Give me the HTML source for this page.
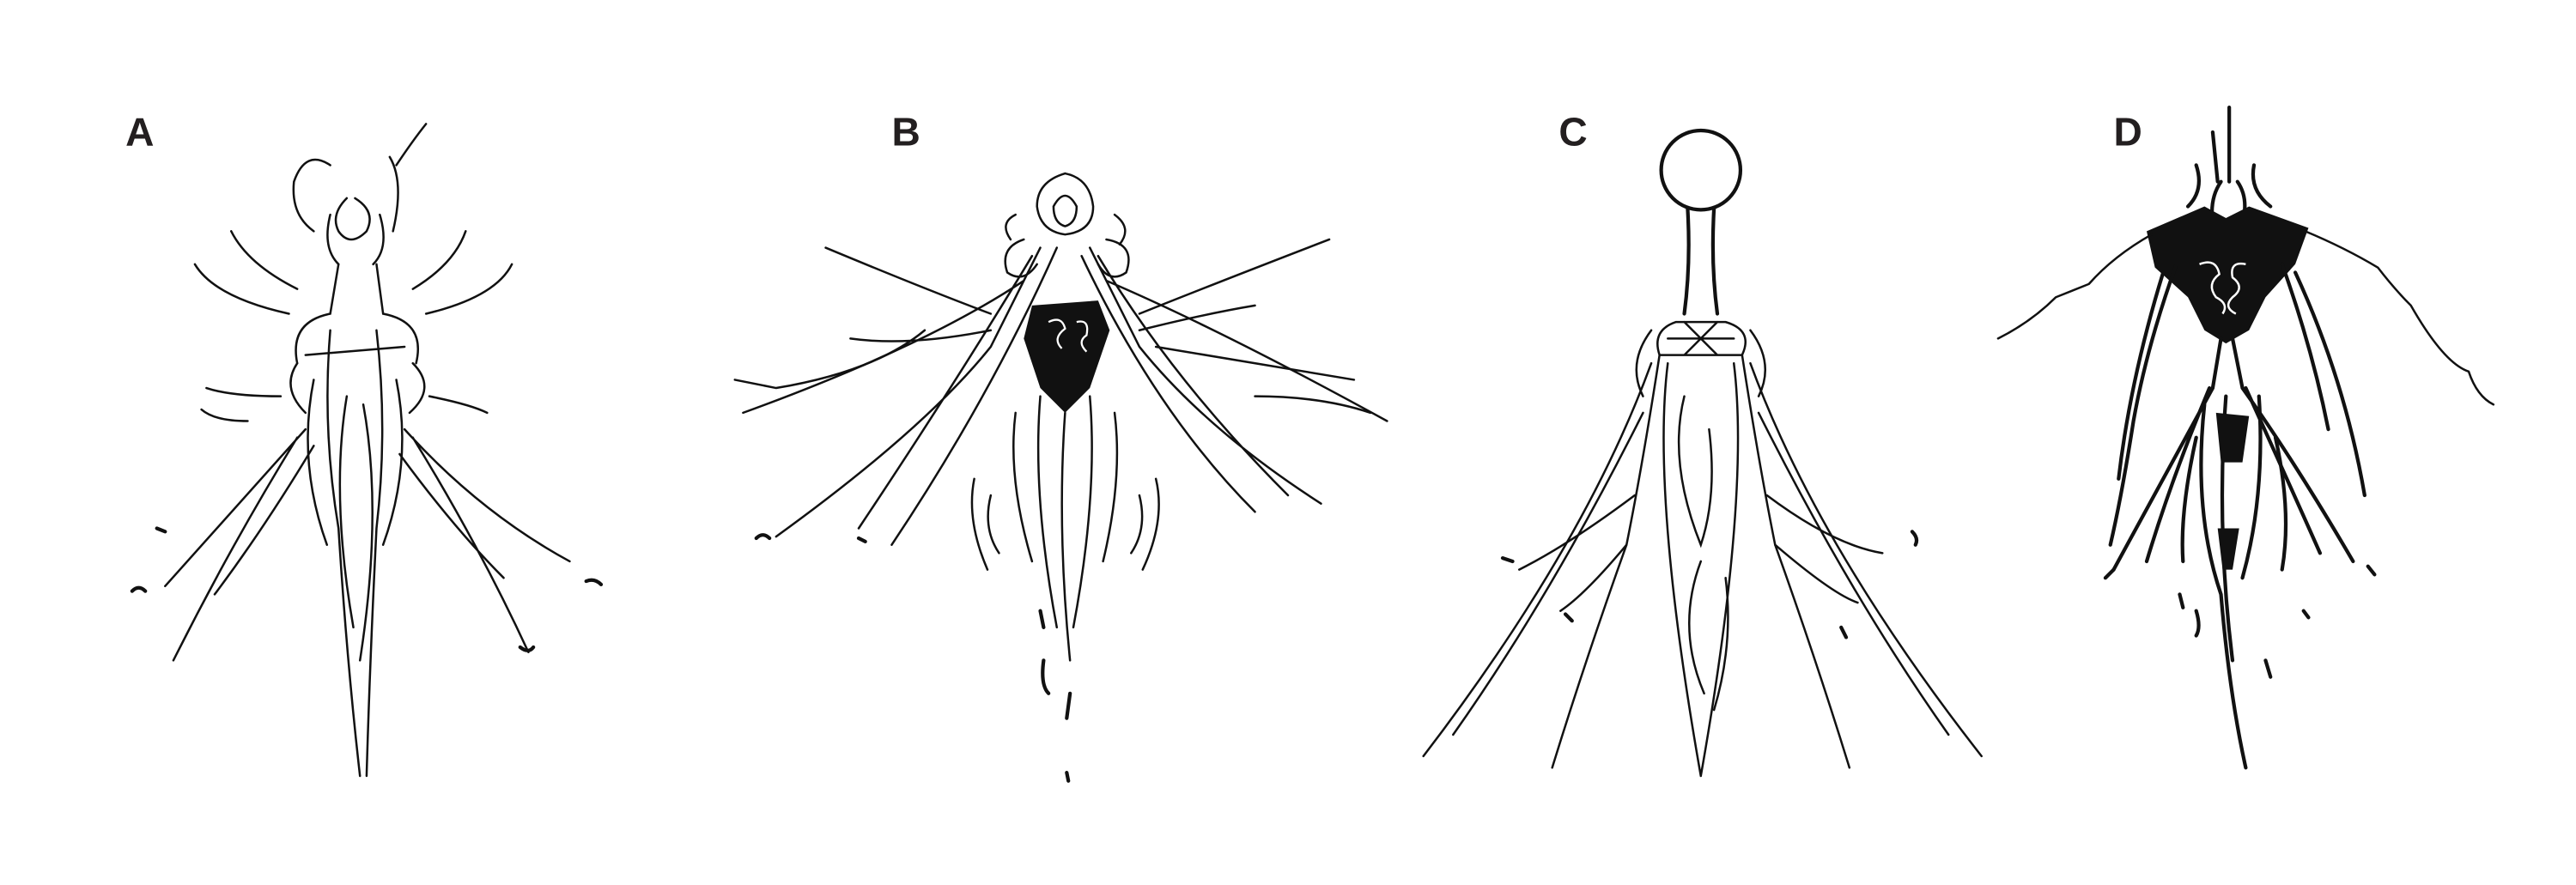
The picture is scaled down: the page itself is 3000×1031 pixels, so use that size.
<!DOCTYPE html>
<html><head><meta charset="utf-8"><style>
html,body{margin:0;padding:0;background:#fff;}
svg{display:block;}
text{font-family:"Liberation Sans",sans-serif;font-weight:bold;fill:#231f20;}
.s{fill:none;stroke:#111;stroke-width:1.3;stroke-linecap:round;}
.t{fill:none;stroke:#111;stroke-width:2.2;stroke-linecap:round;}
</style></head><body>
<svg width="3000" height="1031" viewBox="0 0 1560 536" xmlns="http://www.w3.org/2000/svg">
<rect width="1560" height="536" fill="#fff"/>
<text x="76" y="88" font-size="24">A</text>
<text x="540" y="88" font-size="24">B</text>
<text x="944" y="88" font-size="24">C</text>
<text x="1280" y="88" font-size="24">D</text>

<g>
<path class="s" d="M210 120 Q200 130 205 140 Q212 150 222 140 Q228 128 215 120 M200 130 Q195 150 205 160 M230 130 Q236 150 226 160"/>
<path class="s" d="M200 100 Q185 90 178 110 Q176 130 190 140 M240 100 Q250 85 258 75 M236 95 Q245 110 238 140"/>
<path class="s" d="M205 160 L200 190 Q175 195 180 220 M228 160 L232 190 Q258 195 252 220"/>
<path class="s" d="M180 175 Q150 160 140 140 M250 175 Q275 160 282 140 M175 190 Q130 180 118 160 M258 190 Q300 180 310 160"/>
<path class="s" d="M185 215 L245 210 M180 220 Q170 235 185 250 M250 220 Q265 235 248 250"/>
<path class="s" d="M200 200 Q195 260 205 320 Q210 400 218 470 M228 200 Q235 260 228 320 Q224 400 222 470"/>
<path class="s" d="M190 230 Q180 280 198 330 M240 230 Q250 280 232 330 M210 240 Q200 300 214 380 M220 245 Q232 310 218 400"/>
<path class="s" d="M185 260 Q140 310 100 355 M180 265 Q140 330 105 400 M190 270 Q160 320 130 360"/>
<path class="s" d="M245 260 Q290 310 345 340 M250 265 Q290 330 320 395 M242 275 Q275 320 305 350"/>
<path class="s" d="M170 240 Q140 240 125 235 M260 240 Q285 245 295 250 M150 255 Q130 255 122 248"/>
<path class="t" d="M80 358 Q84 354 88 358 M355 352 Q360 350 364 354 M315 392 Q320 396 323 392 M95 320 L100 322"/>
</g>

<g>
<path class="s" d="M645 105 Q628 110 628 125 Q630 140 645 142 Q662 140 662 125 Q660 108 645 105 M638 125 Q645 112 652 125 Q652 135 645 137 Q638 135 638 125"/>
<path class="s" d="M620 145 Q605 150 610 165 Q620 172 628 160 M670 145 Q688 148 682 165 Q672 172 665 160 M615 130 Q605 135 612 145 M675 130 Q686 138 678 148"/>
<path d="M625 185 L665 182 L672 200 L660 235 L645 250 L630 235 L620 205 Z" fill="#111"/>
<path d="M635 195 q8 -4 10 4 q-8 6 -2 12 M652 195 q8 -2 6 8 q-6 4 0 10" fill="none" stroke="#fff" stroke-width="1.2"/>
<path class="s" d="M630 150 L600 210 Q560 260 470 325 M625 155 Q580 230 520 320 M640 150 Q600 240 540 330 M620 170 Q560 210 450 250"/>
<path class="s" d="M660 150 L690 210 Q730 260 800 305 M665 155 Q710 230 780 300 M655 155 Q700 250 760 310 M670 170 Q740 200 840 255"/>
<path class="s" d="M600 190 Q560 175 500 150 M600 200 Q550 210 515 205 M560 200 Q530 225 470 235 Q455 232 445 230"/>
<path class="s" d="M690 190 Q740 170 805 145 M690 200 Q730 190 760 185 M700 210 Q760 220 820 230 M760 240 Q800 240 830 250"/>
<path class="s" d="M630 240 Q625 300 640 380 M660 240 Q665 300 650 380 M645 250 Q640 320 648 400 M615 250 Q610 290 625 340 M675 250 Q680 290 668 340"/>
<path class="s" d="M600 300 Q595 320 605 335 M690 300 Q695 320 685 335 M590 290 Q585 315 598 345 M700 290 Q706 315 692 345"/>
<path class="t" d="M632 400 Q630 415 635 420 M648 420 L646 435 M630 370 L632 380 M646 468 L647 473 M458 326 Q462 322 466 326 M520 326 L524 328"/>
</g>

<g>
<circle cx="1030" cy="103" r="24" class="t"/>
<path class="t" d="M1022 126 Q1024 160 1020 190 M1038 126 Q1036 160 1040 190"/>
<path class="s" d="M1015 195 Q1000 200 1005 215 L1055 215 Q1062 200 1045 195 Z M1010 205 L1050 205 M1020 195 L1040 215 M1040 195 L1020 215"/>
<path class="s" d="M1005 215 Q995 280 985 330 Q960 400 940 465 M1055 215 Q1065 280 1075 330 Q1100 400 1120 465 M1010 220 Q1000 300 1030 470 M1050 220 Q1060 300 1030 470"/>
<path class="s" d="M1000 220 Q960 330 862 458 M1060 220 Q1100 330 1200 458 M995 250 Q940 360 880 445 M1065 250 Q1120 360 1180 445 M1000 200 Q985 220 995 240 M1060 200 Q1075 220 1065 240"/>
<path class="s" d="M1020 240 Q1010 280 1030 330 Q1040 300 1035 260 M1030 340 Q1015 380 1032 420 M1045 350 Q1050 390 1038 430"/>
<path class="s" d="M990 300 Q950 330 920 345 M1070 300 Q1110 330 1140 335 M985 330 Q960 360 945 370 M1075 330 Q1110 360 1125 365"/>
<path class="t" d="M910 338 L916 340 M1158 322 Q1162 326 1160 330 M948 372 L952 376 M1115 380 L1118 386"/>
</g>

<g>
<path class="t" d="M1350 65 L1350 110 M1340 80 L1343 110 M1345 110 Q1338 120 1340 135 M1355 110 Q1362 120 1358 135 M1330 100 Q1335 115 1325 125 M1365 100 Q1362 115 1375 125"/>
<path d="M1300 140 L1335 125 L1348 132 L1362 125 L1398 138 L1390 160 L1372 180 L1362 200 L1348 208 L1335 200 L1325 180 L1305 162 Z" fill="#111"/>
<path d="M1332 160 q10 -4 12 6 q-8 6 -2 14 q8 4 4 10 M1360 160 q-10 -2 -8 8 q8 6 0 12 q-6 6 2 10" fill="none" stroke="#fff" stroke-width="1.3"/>
<path class="s" d="M1303 142 Q1280 155 1265 172 Q1250 178 1245 180 Q1230 195 1210 205 M1396 140 Q1420 150 1440 162 Q1450 175 1460 185 Q1480 220 1495 225 Q1500 240 1510 245"/>
<path class="t" d="M1318 160 Q1300 210 1292 255 Q1285 300 1278 330 M1382 160 Q1400 210 1410 260 M1310 165 Q1290 230 1283 290 M1390 165 Q1420 230 1432 300"/>
<path class="t" d="M1345 205 L1340 235 Q1310 290 1280 345 M1352 205 L1358 235 Q1390 280 1425 340 M1338 235 Q1315 290 1300 340 M1360 235 Q1385 290 1405 335"/>
<path class="t" d="M1335 245 Q1328 310 1345 360 Q1350 420 1360 465 M1368 240 Q1372 300 1358 350 M1348 240 Q1342 320 1352 400 M1330 265 Q1320 310 1322 340 M1378 265 Q1388 310 1382 345"/>
<path d="M1342 250 L1362 252 L1358 280 L1345 280 Z M1343 320 L1356 320 L1352 345 L1346 345 Z" fill="#111"/>
<path class="t" d="M1280 345 L1275 350 M1434 343 L1438 348 M1330 370 Q1333 380 1330 385 M1372 400 L1375 410 M1395 370 L1398 374 M1320 360 L1322 368"/>
</g>
</svg>
</body></html>
